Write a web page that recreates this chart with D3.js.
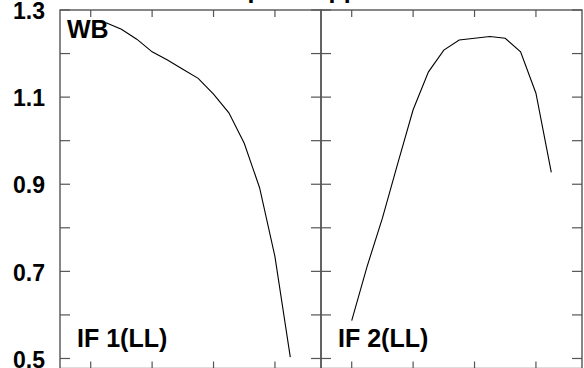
<!DOCTYPE html>
<html>
<head>
<meta charset="utf-8">
<script src="https://cdn.jsdelivr.net/npm/d3@7"></script>
<style>
  body { margin: 0; background: #fff; }
  svg { display: block; font-family: "Liberation Sans", Arial, sans-serif; }
</style>
</head>
<body>
<div id="bp_chart"></div>
<script>
var vWidth = 584;
var vHeight = 368;

// channel numbers and amplitudes for each IF
var if1Channels = [3, 4, 5, 6, 7, 8, 9, 10, 11, 12, 13, 14, 15];
var if1Amp = [1.271, 1.256, 1.233, 1.204, 1.185, 1.164, 1.143, 1.107, 1.064, 0.994, 0.892, 0.734, 0.503];
var if2Channels = [2, 3, 4, 5, 6, 7, 8, 9, 10, 11, 12, 13, 14, 15];
var if2Amp = [0.587, 0.711, 0.822, 0.948, 1.071, 1.158, 1.208, 1.231, 1.235, 1.239, 1.235, 1.204, 1.109, 0.927];

var panelNames = ["IF 1(LL)", "IF 2(LL)"];
var yTicks = [0.5, 0.6, 0.7, 0.8, 0.9, 1.0, 1.1, 1.2, 1.3];
var yLabelTicks = [0.5, 0.7, 0.9, 1.1, 1.3];
var xTicks = [2, 6, 10, 14];
var titleText = "Bandpass Applied";

var panels = [
  { name: panelNames[0], ch: if1Channels, amp: if1Amp },
  { name: panelNames[1], ch: if2Channels, amp: if2Amp }
];

// note: "top" is taken by window.top, so use other names
var plotLeft = 60, plotTop = 10, plotBottom = 368.5, panelW = 261;
var frameColor = "#555";

var svg = d3.select("#bp_chart")
            .append("svg")
            .attr("width", vWidth)
            .attr("height", vHeight);

var y = d3.scaleLinear().domain([0.477, 1.3]).range([plotBottom, plotTop]);

// title (mostly above the visible area)
svg.append("text")
   .attr("x", 185)
   .attr("y", -2.5)
   .attr("font-size", 25)
   .attr("font-weight", "bold")
   .text(titleText);

// y tick labels
svg.selectAll(".ylab").data(yLabelTicks).enter().append("text")
   .attr("class", "ylab")
   .attr("x", 45)
   .attr("y", d => y(d))
   .attr("dy", "0.4em")
   .attr("text-anchor", "end")
   .attr("font-size", 23)
   .attr("font-weight", "bold")
   .text(d => d3.format(".1f")(d));

panels.forEach(function (p, i) {
  var x0 = plotLeft + i * panelW;
  var x = d3.scaleLinear().domain([0, 17]).range([x0, x0 + panelW]);
  var g = svg.append("g");

  // frame
  g.append("rect")
   .attr("x", x0).attr("y", plotTop)
   .attr("width", panelW).attr("height", plotBottom - plotTop)
   .attr("fill", "none")
   .attr("stroke", frameColor)
   .attr("stroke-width", 1.4);

  // y ticks on both sides, pointing in
  g.selectAll(".tl").data(yTicks).enter().append("line")
   .attr("x1", x0).attr("x2", x0 + 10)
   .attr("y1", d => y(d)).attr("y2", d => y(d))
   .attr("stroke", frameColor).attr("stroke-width", 1.2);
  g.selectAll(".tr").data(yTicks).enter().append("line")
   .attr("x1", x0 + panelW - 10).attr("x2", x0 + panelW)
   .attr("y1", d => y(d)).attr("y2", d => y(d))
   .attr("stroke", frameColor).attr("stroke-width", 1.2);

  // x ticks top and bottom
  g.selectAll(".xt").data(xTicks).enter().append("line")
   .attr("x1", d => x(d)).attr("x2", d => x(d))
   .attr("y1", plotTop).attr("y2", plotTop + 7)
   .attr("stroke", frameColor).attr("stroke-width", 1.2);
  g.selectAll(".xb").data(xTicks).enter().append("line")
   .attr("x1", d => x(d)).attr("x2", d => x(d))
   .attr("y1", plotBottom - 7).attr("y2", plotBottom)
   .attr("stroke", frameColor).attr("stroke-width", 1.2);

  // the bandpass curve
  var line = d3.line()
    .x((d, k) => x(p.ch[k]))
    .y(d => y(d));
  g.append("path")
   .attr("d", line(p.amp))
   .attr("fill", "none")
   .attr("stroke", "#000")
   .attr("stroke-width", 1.1);

  g.append("text")
   .attr("x", x0 + 17)
   .attr("y", 347)
   .attr("font-size", 25)
   .attr("font-weight", "bold")
   .text(p.name);
});

svg.append("text")
   .attr("x", 67)
   .attr("y", 38)
   .attr("font-size", 25)
   .attr("font-weight", "bold")
   .text("WB");
</script>
</body>
</html>
